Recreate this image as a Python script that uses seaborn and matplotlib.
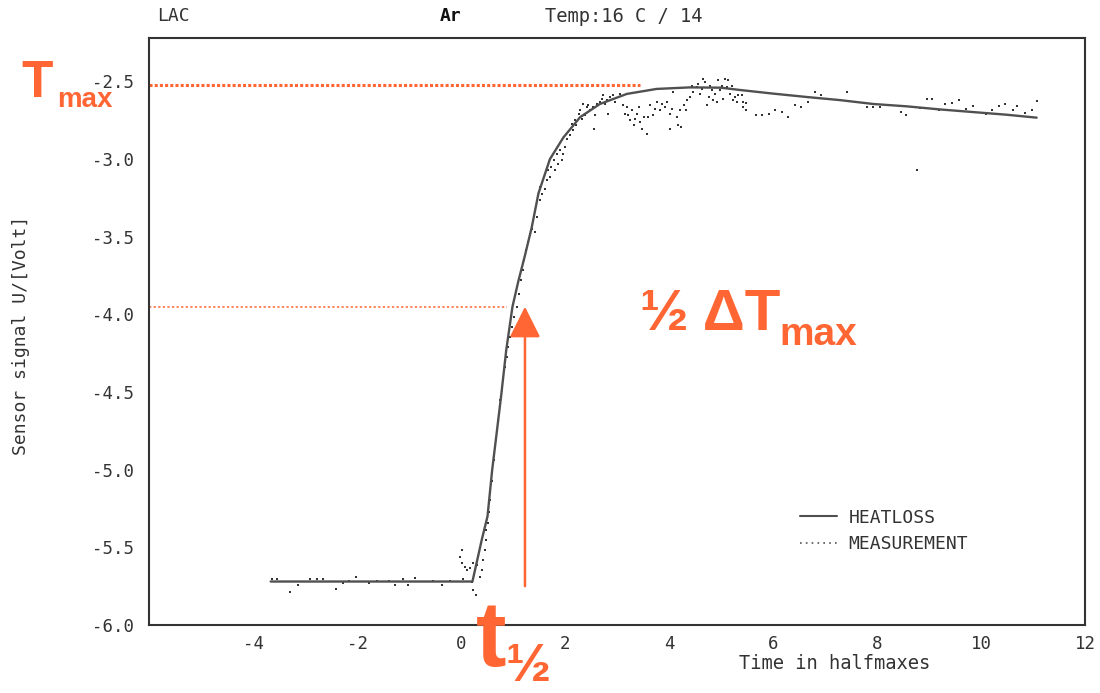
import matplotlib
matplotlib.use("Agg")
import matplotlib.pyplot as plt
from matplotlib.lines import Line2D
import seaborn as sns

# Heat-loss model curve: time (half-maxima) vs sensor voltage
heat_t = [-3.66, 0.22, 0.30, 0.40, 0.51, 0.60, 0.68, 0.77, 0.87, 0.99, 1.10,
          1.23, 1.36, 1.49, 1.71, 1.97, 2.29, 2.67, 3.19, 3.76, 4.40, 5.00,
          5.37, 6.00, 6.65, 7.29, 7.93, 8.57, 9.21, 9.85, 10.49, 11.07]
heat_u = [-5.72, -5.72, -5.60, -5.45, -5.30, -5.00, -4.78, -4.53, -4.23, -3.95,
          -3.79, -3.62, -3.44, -3.22, -3.00, -2.86, -2.73, -2.645, -2.58, -2.548,
          -2.538, -2.54, -2.555, -2.578, -2.60, -2.62, -2.645, -2.66, -2.68,
          -2.697, -2.714, -2.733]

# Measured sensor signal
meas_t = [-3.64, -3.54, -3.29, -3.14, -2.90, -2.76, -2.66, -2.40, -2.26, -2.15,
          -2.01, -1.76, -1.62, -1.38, -1.26, -1.12, -1.01, -0.88, -0.53, -0.37,
          -0.22,
          0.01, -0.02, 0.01, 0.08, 0.12, 0.17, 0.24, 0.30, 0.03, 0.21, 0.24, 0.29,
          0.37, 0.40, 0.43, 0.46, 0.48, 0.49, 0.51, 0.53, 0.56, 0.60, 0.63, 0.67,
          0.71, 0.75, 0.79, 0.81, 0.85, 0.88, 0.91, 0.94, 0.98, 1.02, 1.07, 1.11,
          1.15, 1.19, 1.21, 1.25,
          1.28, 1.33, 1.36, 1.42, 1.46, 1.51, 1.55, 1.52, 1.62, 1.65, 1.71, 1.68,
          1.81, 1.74, 1.78, 1.87, 1.84, 1.90, 1.97, 2.00, 1.94, 2.03, 2.10, 2.16,
          2.13, 2.22, 2.19, 2.26, 2.32, 2.29, 2.38, 2.42, 2.35, 2.48, 2.45, 2.54,
          2.58, 2.56, 2.61, 2.71, 2.74, 2.67, 2.77, 2.80, 2.83, 2.87, 2.93, 2.96,
          3.06, 3.03, 3.12, 3.15, 3.19, 3.22, 3.25, 3.28, 3.32, 3.35, 3.38, 3.43,
          3.44, 3.48, 3.51, 3.57, 3.60, 3.63, 3.70, 3.73, 3.76, 3.83, 3.86, 3.92,
          3.96, 4.02, 4.02, 4.05, 4.08, 4.15, 4.18, 4.21, 4.24, 4.28, 4.33, 4.34,
          4.40, 4.44, 4.47, 4.53, 4.56, 4.60, 4.63, 4.66, 4.69, 4.73, 4.76, 4.79,
          4.82, 4.85, 4.88, 4.92, 4.95, 4.98, 5.01, 5.04, 5.08, 5.11, 5.14, 5.17,
          5.21, 5.24, 5.27, 5.30, 5.33,
          5.40, 5.43, 5.49, 5.43, 5.49, 5.67, 5.78, 5.93, 6.04, 6.17, 6.28, 6.42,
          6.53, 6.68, 6.81, 6.92, 7.42, 7.80, 7.93, 8.06, 8.46, 8.56, 8.83, 8.96,
          9.06, 9.20, 9.31, 9.45, 9.58, 9.72, 9.85, 10.10, 10.21, 10.35, 10.46,
          10.61, 10.70, 10.85, 10.98, 11.07, 8.77]
meas_u = [-5.706, -5.706, -5.786, -5.745, -5.706, -5.706, -5.706, -5.770, -5.730,
          -5.717, -5.693, -5.730, -5.717, -5.717, -5.745, -5.706, -5.745, -5.700,
          -5.717, -5.745, -5.717,
          -5.517, -5.560, -5.603, -5.625, -5.646, -5.635, -5.603, -5.614, -5.706,
          -5.720, -5.775, -5.807,
          -5.690, -5.646, -5.582, -5.517, -5.453, -5.389, -5.346, -5.270, -5.196,
          -5.070, -4.940, -4.810, -4.680, -4.552, -4.488, -4.423, -4.338, -4.273,
          -4.209, -4.145, -4.080, -4.016, -3.952, -3.866, -3.780, -3.716, -3.651,
          -3.587,
          -3.533, -3.479, -3.447, -3.469, -3.373, -3.265, -3.222, -3.180, -3.190,
          -3.136, -3.115, -3.072, -3.072, -3.050, -3.008, -3.030, -2.965, -2.944,
          -2.965, -2.922, -3.008, -2.868, -2.847, -2.815, -2.772, -2.783, -2.750,
          -2.707, -2.740, -2.686, -2.718, -2.664, -2.643, -2.686, -2.654, -2.664,
          -2.718, -2.803, -2.643, -2.611, -2.590, -2.632, -2.643, -2.622, -2.707,
          -2.600, -2.590, -2.632, -2.579, -2.526, -2.654, -2.707, -2.664, -2.718,
          -2.750, -2.686, -2.783, -2.740, -2.707, -2.664, -2.761, -2.803, -2.729,
          -2.836, -2.729, -2.654, -2.718, -2.675, -2.632, -2.686, -2.643, -2.664,
          -2.632, -2.803, -2.707, -2.675, -2.568, -2.729, -2.783, -2.686, -2.793,
          -2.654, -2.686, -2.622, -2.600, -2.526, -2.568, -2.537, -2.515, -2.579,
          -2.547, -2.483, -2.504, -2.654, -2.600, -2.526, -2.558, -2.622, -2.579,
          -2.632, -2.490, -2.558, -2.526, -2.611, -2.483, -2.537, -2.490, -2.579,
          -2.526, -2.622, -2.600, -2.632, -2.590,
          -2.590, -2.632, -2.639, -2.664, -2.686, -2.718, -2.718, -2.707, -2.686,
          -2.697, -2.729, -2.654, -2.664, -2.632, -2.568, -2.590, -2.568, -2.664,
          -2.664, -2.664, -2.697, -2.718, -2.668, -2.611, -2.611, -2.681, -2.643,
          -2.639, -2.618, -2.675, -2.660, -2.712, -2.681, -2.658, -2.647, -2.681,
          -2.658, -2.700, -2.686, -2.626, -3.072]

x_ticks = [-4, -2, 0, 2, 4, 6, 8, 10, 12]
y_ticks = [-6.0, -5.5, -5.0, -4.5, -4.0, -3.5, -3.0, -2.5]

# Characteristic levels of the step response
t_max_level = -2.525      # plateau (T_max)
half_level = -3.95        # half of the temperature rise
t_half = 1.23             # time at which the half level is reached
t_max_line_end = 3.44
half_line_end = 0.88
arrow_base = -5.75

orange = "#FF6633"
ink = "#333333"

sns.set_theme(style="white")
plt.rcParams["font.family"] = ["DejaVu Sans Mono"]
plt.rcParams["axes.unicode_minus"] = False

W, H = 1100, 693
fig = plt.figure(figsize=(W / 100, H / 100), dpi=100)
fig.patch.set_facecolor("white")


def fpos(x, y):
    return x / W, 1 - y / H


ax = fig.add_axes([149 / W, 1 - 625 / H, (1085 - 149) / W, (625 - 38) / H])
ax.set_facecolor("white")

sns.lineplot(x=heat_t, y=heat_u, ax=ax, color="#505050", linewidth=1.7,
             sort=False, estimator=None)
sns.scatterplot(x=meas_t, y=meas_u, ax=ax, color="#333333", s=3.8, marker="s",
                linewidth=0)

ax.set_xlim(-6, 12)
ax.set_ylim(-6.0, -2.22)
ax.set_xticks(x_ticks)
ax.set_xticklabels([f"{v:d}" for v in x_ticks])
ax.set_yticks(y_ticks)
ax.set_yticklabels([f"{v:.1f}" for v in y_ticks])
ax.tick_params(axis="both", direction="in", length=7, width=1.2, color=ink,
               labelcolor=ink, labelsize=12.5)
ax.tick_params(axis="y", pad=11)
ax.tick_params(axis="x", pad=7)
for sp in ax.spines.values():
    sp.set_color(ink)
    sp.set_linewidth(1.5)

ax.set_ylabel("Sensor signal U/[Volt]", fontsize=13, color=ink)
ax.yaxis.set_label_coords(-0.127, 0.494)
ax.set_xlabel("Time in halfmaxes", fontsize=13.5, color=ink)
ax.xaxis.set_label_coords(0.732, -0.05)

handles = [Line2D([], [], color="#505050", lw=1.5),
           Line2D([], [], color="#555555", lw=1.2, ls=(0, (1, 2.5)))]
ax.legend(handles, ["HEATLOSS", "MEASUREMENT"], loc="upper left",
          bbox_to_anchor=(0.695, 0.198), frameon=False, fontsize=13,
          handlelength=2.1, handletextpad=0.6, labelspacing=0.45,
          borderpad=0, borderaxespad=0, labelcolor=ink)

# Header line of the plotter output
fig.text(*fpos(157, 16), "LAC", fontsize=13, color=ink, va="center")
fig.text(*fpos(440, 16), "Ar", fontsize=13, color="#111111", va="center",
         fontweight="bold")
fig.text(*fpos(545, 16), "Temp:16 C / 14", fontsize=13.5, color=ink,
         va="center")

# T_max and half-level guide lines
ax.plot([-6, t_max_line_end], [t_max_level, t_max_level], color=orange, lw=2.2,
        ls=(0, (1, 0.7)), solid_capstyle="butt")
ax.plot([-6, half_line_end], [half_level, half_level], color=orange, lw=1.1,
        ls=(0, (1.5, 1.5)))
ax.annotate("", xy=(t_half, half_level), xytext=(t_half, arrow_base),
            arrowprops=dict(arrowstyle="-|>,head_length=0.4,head_width=0.2",
                            color=orange, lw=1.8, mutation_scale=48,
                            shrinkA=0, shrinkB=0))

lab_font = ["Liberation Sans", "DejaVu Sans"]
fig.text(*fpos(21, 97), "T", fontsize=37, color=orange, fontweight="bold",
         family=lab_font, va="baseline")
fig.text(*fpos(57, 107), "max", fontsize=20, color=orange, fontweight="bold",
         family=lab_font, va="baseline")
fig.text(*fpos(640, 330), "½ ΔT", fontsize=42, color=orange, fontweight="bold",
         family=lab_font, va="baseline")
fig.text(*fpos(779, 345), "max", fontsize=28, color=orange, fontweight="bold",
         family=lab_font, va="baseline")
fig.text(*fpos(476, 666), "t", fontsize=66, color=orange, fontweight="bold",
         family=lab_font, va="baseline")
fig.text(*fpos(506, 692), "½", fontsize=39, color=orange, fontweight="bold",
         family=lab_font, va="bottom")

fig.savefig("out.png", dpi=100, facecolor="white")
